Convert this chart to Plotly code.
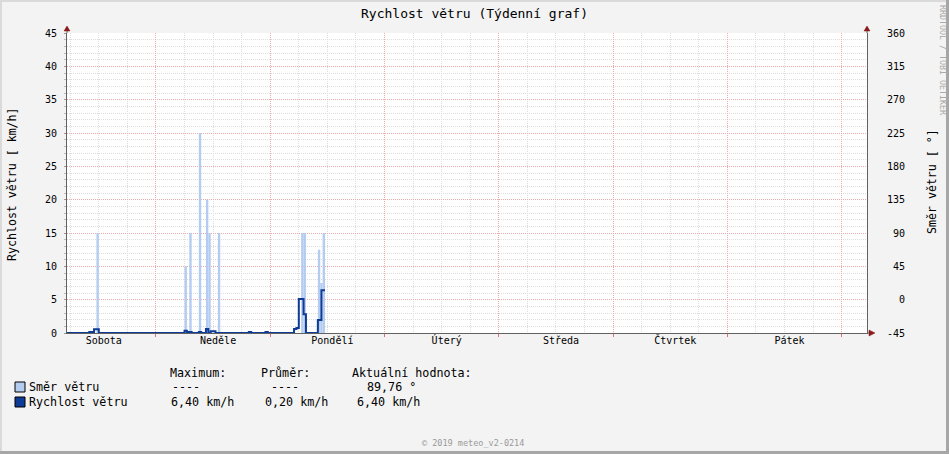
import plotly.graph_objects as go

# ---------------- data ----------------
# time axis: hours since Saturday 00:00
view_start_h = 5.32
view_end_h = 173.32

day_labels = ["Sobota", "Neděle", "Pondělí", "Úterý", "Středa", "Čtvrtek", "Pátek"]
day_label_hours = [12, 36, 60, 84, 108, 132, 156]

# wind speed (km/h), step breakpoints (value holds until next time)
speed_t = [5.0, 10.0, 11.0, 12.0, 30.0, 30.5, 31.5, 33.0, 33.5, 34.5, 35.0, 35.5, 36.5,
           43.5, 44.0, 47.0, 47.5, 53.0, 53.5, 54.0, 55.0, 55.5, 58.0, 58.75, 59.5]
speed_v = [0.0, 0.15, 0.55, 0.0, 0.35, 0.15, 0.0, 0.15, 0.0, 0.6, 0.0, 0.25, 0.0,
           0.15, 0.0, 0.15, 0.0, 0.6, 0.75, 5.1, 2.8, 0.0, 1.95, 6.4, 6.4]

# wind direction (degrees), 30-minute slots starting at dir_t
dir_t = [11.5, 30.0, 31.0, 33.0, 34.5, 35.0, 37.0, 54.5, 55.0, 58.0, 58.5, 59.0]
dir_v = [90, 45, 90, 225, 135, 90, 90, 90, 90, 67.5, 22.5, 90]
slot_h = 0.5

speed_range = [0, 45]
dir_range = [-45, 360]
dir_ticks = [-45, 0, 45, 90, 135, 180, 225, 270, 315, 360]

legend_dir_max = "----"
legend_dir_avg = "----"
legend_dir_cur = "89,76 °"
legend_speed_avg = "0,20 km/h"

# ---------------- styles ----------------
FONT = "DejaVu Sans Mono"
LIGHT = "#B4CCF0"
NAVY = "#0D3B96"
MGRID = "#EBABAB"
GRID = "#DDDDDD"
AXIS = "#626262"
ARROW = "#8B1A1A"
BG = "#F3F3F3"

L, R, T, B = 67, 82, 33, 121
W, H = 949, 454
PW, PH = W - L - R, H - T - B


def px_x(p):
    return (p - L) / PW


def px_y(p):
    return (H - B - p) / PH


fig = go.Figure()

fig.add_trace(go.Bar(
    x=[t + slot_h / 2 for t in dir_t],
    y=[v - dir_range[0] for v in dir_v],
    base=dir_range[0],
    width=slot_h,
    marker=dict(color=LIGHT, line=dict(width=0)),
    xaxis="x", yaxis="y", showlegend=False, hoverinfo="skip",
))

fig.add_trace(go.Scatter(
    x=speed_t, y=speed_v, mode="lines",
    line=dict(shape="hv", width=2, color=NAVY),
    xaxis="x2", yaxis="y2", showlegend=False,
))

tickfont = dict(family=FONT, size=10, color="#000000")


def pad3(v):
    s = str(v)
    return "\u00a0" * (3 - len(s)) + s


fig.update_layout(
    width=W, height=H,
    margin=dict(l=L, r=R, t=T, b=B, pad=0),
    paper_bgcolor=BG, plot_bgcolor="#FFFFFF",
    showlegend=False,
    title=dict(text="Rychlost větru (Týdenní graf)", x=0.5, xref="container", xanchor="center",
               y=1 - 13 / H, yref="container", yanchor="middle",
               font=dict(family=FONT, size=13, color="#000000")),
    xaxis=dict(
        range=[view_start_h, view_end_h], tickmode="linear", tick0=0, dtick=24,
        showticklabels=False, showgrid=True, gridcolor=MGRID, griddash="1px,1px", gridwidth=1,
        ticks="outside", ticklen=3, tickcolor="#E07070",
        minor=dict(tickmode="linear", tick0=0, dtick=6, showgrid=True, gridcolor=GRID,
                   griddash="1px,1px", ticks=""),
        zeroline=False, showline=True, linecolor=AXIS, linewidth=1,
    ),
    xaxis2=dict(
        overlaying="x", anchor="y2", side="bottom",
        range=[view_start_h, view_end_h], tickmode="array",
        tickvals=day_label_hours, ticktext=day_labels, ticklabelshift=5,
        showgrid=False, zeroline=False, showline=False, ticks="",
        tickfont=tickfont,
    ),
    yaxis=dict(
        range=dir_range, side="right", tickmode="array", tickvals=dir_ticks,
        ticktext=[pad3(v) for v in dir_ticks], tickfont=tickfont,
        showgrid=True, gridcolor=MGRID, griddash="1px,1px", gridwidth=1,
        minor=dict(tickmode="linear", tick0=-45, dtick=9, showgrid=True, gridcolor=GRID,
                   griddash="1px,1px", ticks=""),
        ticks="", ticklabelstandoff=17,
        zeroline=False, showline=True, linecolor=AXIS, linewidth=1,
    ),
    yaxis2=dict(
        range=speed_range, overlaying="y", side="left", anchor="x2",
        tickmode="linear", tick0=0, dtick=5, tickfont=tickfont,
        showgrid=False, zeroline=False, showline=True, linecolor=AXIS, linewidth=1,
        ticks="outside", ticklen=2, tickcolor="#999999",
        minor=dict(tickmode="linear", tick0=0, dtick=1, ticks="outside", ticklen=2,
                   tickcolor="#BBBBBB", showgrid=False),
        ticklabelstandoff=5,
    ),
)

shapes = []
# frame shading
shapes.append(dict(type="rect", xref="paper", yref="paper", x0=px_x(0), x1=px_x(W), y0=px_y(0), y1=px_y(2),
                   fillcolor="#DADADA", line=dict(width=0), layer="below"))
shapes.append(dict(type="rect", xref="paper", yref="paper", x0=px_x(0), x1=px_x(2), y0=px_y(0), y1=px_y(H),
                   fillcolor="#DADADA", line=dict(width=0), layer="below"))
shapes.append(dict(type="rect", xref="paper", yref="paper", x0=px_x(W - 3), x1=px_x(W), y0=px_y(0), y1=px_y(H),
                   fillcolor="#A6A6A6", line=dict(width=0), layer="below"))
shapes.append(dict(type="rect", xref="paper", yref="paper", x0=px_x(0), x1=px_x(W), y0=px_y(H - 3), y1=px_y(H),
                   fillcolor="#A6A6A6", line=dict(width=0), layer="below"))

# axis extensions and arrows
for ax in (0, 1):
    shapes.append(dict(type="path", xref="paper", yref="paper", xsizemode="pixel", ysizemode="pixel",
                       xanchor=ax, yanchor=1, path="M0,0 L0,3", line=dict(color=AXIS, width=1)))
    shapes.append(dict(type="path", xref="paper", yref="paper", xsizemode="pixel", ysizemode="pixel",
                       xanchor=ax, yanchor=1, path="M-3,2 L3,2 L0,7 Z",
                       fillcolor=ARROW, line=dict(color=ARROW, width=0.5)))
shapes.append(dict(type="path", xref="paper", yref="paper", xsizemode="pixel", ysizemode="pixel",
                   xanchor=1, yanchor=0, path="M0,0 L3,0", line=dict(color=AXIS, width=1)))
shapes.append(dict(type="path", xref="paper", yref="paper", xsizemode="pixel", ysizemode="pixel",
                   xanchor=1, yanchor=0, path="M2,-3 L2,3 L8,0 Z",
                   fillcolor=ARROW, line=dict(color=ARROW, width=0.5)))

# legend colour boxes
shapes.append(dict(type="rect", xref="paper", yref="paper", x0=px_x(15), x1=px_x(25), y0=px_y(392), y1=px_y(382),
                   fillcolor=LIGHT, line=dict(color="#000000", width=1)))
shapes.append(dict(type="rect", xref="paper", yref="paper", x0=px_x(15), x1=px_x(25), y0=px_y(407), y1=px_y(397),
                   fillcolor=NAVY, line=dict(color="#000000", width=1)))
fig.update_layout(shapes=shapes)


def fmt(v, unit=""):
    return f"{v:.2f}".replace(".", ",") + unit


speed_max = fmt(max(speed_v), " km/h")
speed_cur = fmt(speed_v[-1], " km/h")

anns = []


def txt(s, x, y, size=11.7, color="#000000", angle=0, xanchor="left"):
    anns.append(dict(text=s, xref="paper", yref="paper", x=px_x(x), y=px_y(y), showarrow=False,
                     xanchor=xanchor, yanchor="middle", textangle=angle, borderpad=0, borderwidth=0,
                     font=dict(family=FONT, size=size, color=color)))


txt("Maximum:", 170, 373)
txt("Průměr:", 261, 373)
txt("Aktuální hodnota:", 352, 373)
txt("Směr větru", 29, 387)
txt(legend_dir_max, 172, 387)
txt(legend_dir_avg, 271, 387)
txt(legend_dir_cur, 367, 387)
txt("Rychlost větru", 29, 402)
txt(speed_max, 171, 402)
txt(legend_speed_avg, 265, 402)
txt(speed_cur, 357, 402)

txt("Rychlost větru [ km/h]", 12, 184, size=11.6, angle=-90, xanchor="center")
txt("Směr větru [ °]", 932, 182, size=11.6, angle=-90, xanchor="center")
txt("RRDTOOL / TOBI OETIKER", 943, 60, size=8.3, color="#AAAAAA", angle=90, xanchor="center")
txt("© 2019 meteo_v2-0214", 473, 443, size=8.5, color="#9A9A9A", xanchor="center")

fig.update_layout(annotations=anns)

fig.write_html("out.html", config={"displayModeBar": False},
               post_script="document.body.style.margin='0px';document.body.style.overflow='hidden';")
